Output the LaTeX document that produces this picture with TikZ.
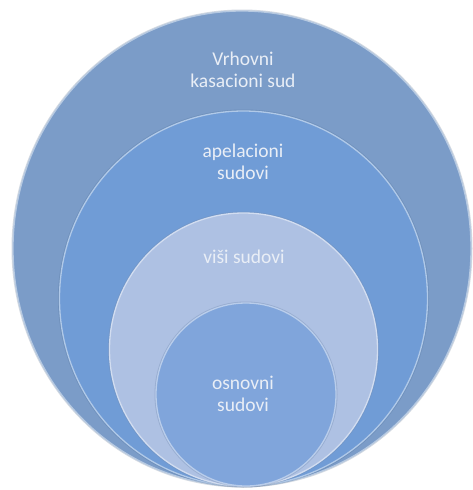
\documentclass[tikz,border=0pt]{standalone}
\usepackage{fontspec}
\setmainfont{Carlito}
\usetikzlibrary{shapes.geometric}
\definecolor{cA}{HTML}{7B9CC8}
\definecolor{cB}{HTML}{709CD6}
\definecolor{cC}{HTML}{AEC1E3}
\definecolor{cD}{HTML}{80A5DB}
\definecolor{txt}{HTML}{E9EEF6}
\begin{document}
\begin{tikzpicture}[x=1pt,y=-1pt,
  ring/.style={ellipse, inner sep=0pt, fill=#1, draw=#1!55!white, line width=1.3pt,
    preaction={draw=#1!70!black, line width=3pt, opacity=0.25}},
  lbl/.style={text=txt, align=center, font=\fontsize{19.5}{21.5}\selectfont}]
\fill[white] (0,0) rectangle (472,490);
\useasboundingbox (0,0) rectangle (472,490);
\node[ring=cA, minimum width=458pt, minimum height=475pt] (r1) at (242,248.5) {};
\node[ring=cB, minimum width=368pt, minimum height=375pt] (r2) at (243.5,298.5) {};
\node[ring=cC, minimum width=268pt, minimum height=273pt] (r3) at (243.5,349.5) {};
\node[ring=cD, minimum width=180pt, minimum height=183pt] (r4) at (246,394.5) {};
\node[lbl] (t1) at (243,70) {Vrhovni\\kasacioni sud};
\node[lbl] (t2) at (243,162) {apelacioni\\sudovi};
\node[lbl] (t3) at (244,257) {viši sudovi};
\node[lbl] (t4) at (243,394) {osnovni\\sudovi};
\end{tikzpicture}
\end{document}
